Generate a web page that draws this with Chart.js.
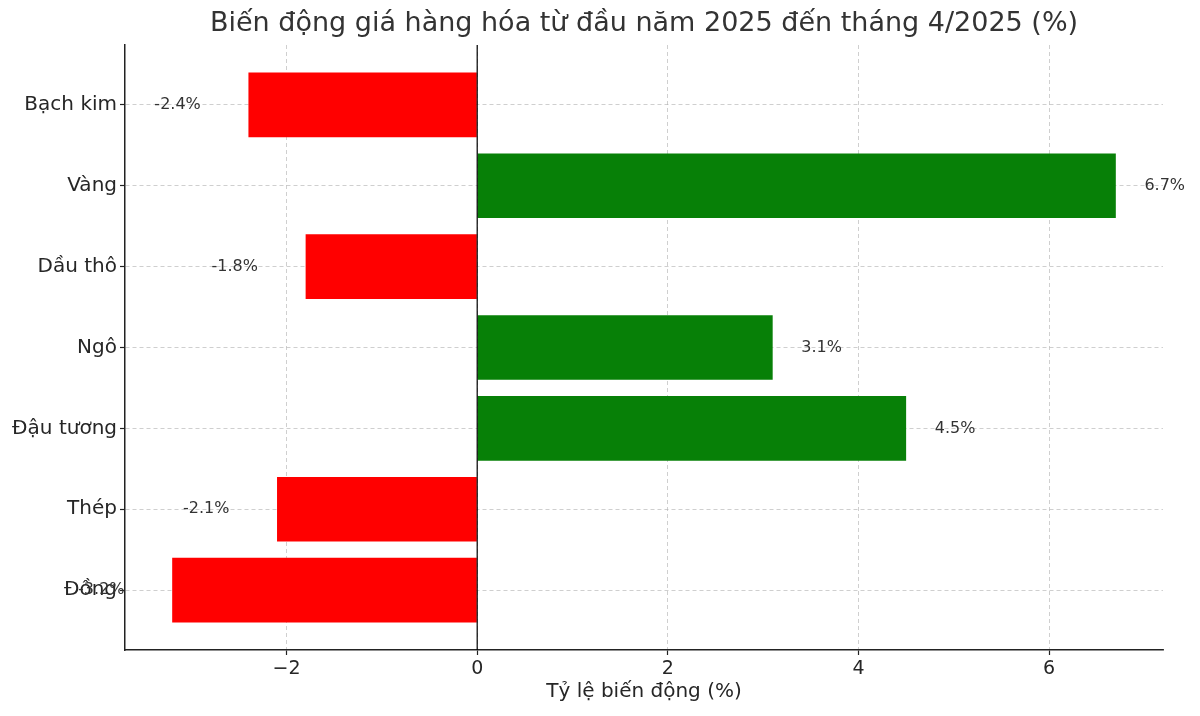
<!DOCTYPE html>
<html>
<head>
<meta charset="utf-8">
<script src="https://cdn.jsdelivr.net/npm/chart.js@4.4.1/dist/chart.umd.min.js"></script>
<style>
html,body{margin:0;padding:0;background:#fff;}
#wrap{width:1200px;height:716px;}
</style>
</head>
<body>
<div id="wrap"><canvas id="c" width="1200" height="716"></canvas></div>
<script>
const categories = ["Bạch kim", "Vàng", "Dầu thô", "Ngô", "Đậu tương", "Thép", "Đồng"];
const changes = [-2.4, 6.7, -1.8, 3.1, 4.5, -2.1, -3.2];
const xTicks = [-2, 0, 2, 4, 6];
const titleText = "Biến động giá hàng hóa từ đầu năm 2025 đến tháng 4/2025 (%)";
const xTitle = "Tỷ lệ biến động (%)";

const FONT = "'DejaVu Sans', sans-serif";
const barColors = changes.map(v => v >= 0 ? '#078007' : '#ff0000');

const titlePlugin = {
  id: 'topTitle',
  afterDraw(chart) {
    const ctx = chart.ctx, a = chart.chartArea;
    ctx.save();
    ctx.font = "27px " + FONT;
    ctx.fillStyle = '#333333';
    ctx.textAlign = 'center';
    ctx.textBaseline = 'middle';
    ctx.fillText(titleText, (a.left + a.right) / 2, 24);
    ctx.restore();
  }
};

const zeroLine = {
  id: 'zeroLine',
  afterDatasetsDraw(chart) {
    const ctx = chart.ctx, a = chart.chartArea, x = chart.scales.x.getPixelForValue(0);
    ctx.save();
    ctx.strokeStyle = '#000';
    ctx.lineWidth = 1.2;
    ctx.beginPath();
    ctx.moveTo(x, a.top);
    ctx.lineTo(x, a.bottom);
    ctx.stroke();
    ctx.restore();
  }
};

const valueLabels = {
  id: 'valueLabels',
  afterDatasetsDraw(chart) {
    const ctx = chart.ctx, xs = chart.scales.x, ys = chart.scales.y;
    ctx.save();
    ctx.font = "16px " + FONT;
    ctx.fillStyle = '#333333';
    ctx.textBaseline = 'middle';
    changes.forEach((v, i) => {
      const y = ys.getPixelForValue(i);
      if (v >= 0) {
        ctx.textAlign = 'left';
        ctx.fillText(v.toFixed(1) + '%', xs.getPixelForValue(v + 0.3), y);
      } else {
        ctx.textAlign = 'right';
        ctx.fillText(v.toFixed(1) + '%', xs.getPixelForValue(v - 0.5), y);
      }
    });
    ctx.restore();
  }
};

const gridOpts = {
  color: 'rgba(175,175,175,0.75)',
  lineWidth: 0.8,
  offset: false,
  drawTicks: true,
  tickLength: 5,
  tickColor: '#222',
  tickWidth: 1.2,
  tickBorderDash: []
};

new Chart(document.getElementById('c'), {
  type: 'bar',
  data: {
    datasets: [{
      data: changes.map((v, i) => ({x: v, y: i})),
      backgroundColor: barColors,
      borderWidth: 0,
      barPercentage: 0.8,
      categoryPercentage: 1.0
    }]
  },
  options: {
    responsive: false,
    animation: false,
    indexAxis: 'y',
    layout: {padding: {left: 0, right: 37, top: 45, bottom: 0}},
    plugins: {legend: {display: false}, tooltip: {enabled: false}, title: {display: false}},
    scales: {
      x: {
        type: 'linear',
        position: 'bottom',
        min: -3.695,
        max: 7.195,
        offset: false,
        afterBuildTicks(scale) { scale.ticks = xTicks.map(v => ({value: v})); },
        afterFit(scale) { scale.height = 66; },
        ticks: {
          font: {family: FONT, size: 19},
          color: '#262626',
          padding: 3,
          maxRotation: 0,
          callback: v => (v < 0 ? '\u2212' + Math.abs(v) : String(v))
        },
        grid: gridOpts,
        border: {display: true, color: '#222', width: 1.5, dash: [4, 3]},
        title: {
          display: true,
          text: xTitle,
          font: {family: FONT, size: 20},
          color: '#262626',
          padding: {top: 0, bottom: 12}
        }
      },
      y: {
        type: 'linear',
        position: 'left',
        reverse: true,
        min: -0.74,
        max: 6.74,
        offset: false,
        afterBuildTicks(scale) { scale.ticks = categories.map((c, i) => ({value: i})); },
        afterFit(scale) { scale.width = 125; },
        ticks: {
          font: {family: FONT, size: 20},
          color: '#262626',
          padding: 3,
          callback: v => categories[v]
        },
        grid: gridOpts,
        border: {display: true, color: '#222', width: 1.5, dash: [4, 3]}
      }
    }
  },
  plugins: [titlePlugin, zeroLine, valueLabels]
});
</script>
</body>
</html>
